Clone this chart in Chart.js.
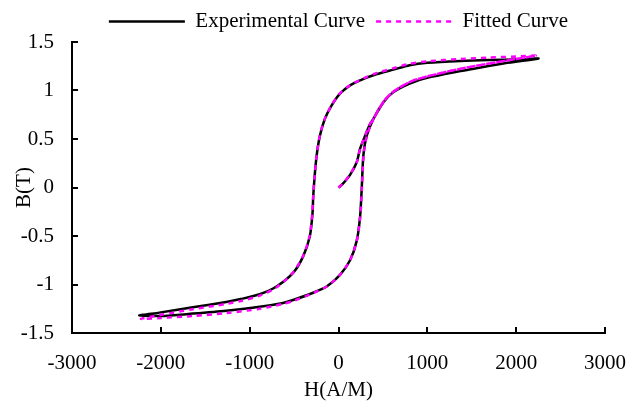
<!DOCTYPE html>
<html>
<head>
<meta charset="utf-8">
<script src="https://cdn.jsdelivr.net/npm/chart.js@4/dist/chart.umd.min.js"></script>
<style>
  body { margin: 0; background: #fff; }
  #wrap { width: 643px; height: 403px; }
</style>
</head>
<body>
<div id="wrap"><canvas id="loop" width="643" height="403"></canvas></div>
<script>
// measured curve: initial magnetisation, then down the upper branch, then up the lower branch
const expH = [0, 50, 130, 205, 243, 300, 356, 393,
    506, 619, 808, 997, 1373, 1523, 1900, 2251,
    2000, 1700, 1373, 1000, 800, 619, 400, 243, 130, 17, -77, -153, -209, -246, -270, -285, -292, -322, -398, -511, -698, -887, -1100, -1263, -1640, -2017, -2243,
    -2000, -1640, -1263, -887, -624, -511, -300, -133, 17, 130, 205, 243, 262, 280, 318, 393, 506, 619, 808, 997, 1373, 1523, 1900, 2251];
const expB = [0, 0.04, 0.13, 0.26, 0.40, 0.535, 0.656, 0.708,
    0.88, 0.984, 1.075, 1.13, 1.20, 1.225, 1.285, 1.33,
    1.32, 1.315, 1.305, 1.285, 1.26, 1.215, 1.16, 1.105, 1.053, 0.967, 0.846, 0.708, 0.535, 0.33, 0.10, -0.10, -0.26, -0.50, -0.71, -0.88, -1.02, -1.10, -1.15, -1.18, -1.235, -1.29, -1.32,
    -1.325, -1.30, -1.27, -1.23, -1.19, -1.16, -1.09, -1.02, -0.90, -0.75, -0.55, -0.30, 0.0, 0.33, 0.535, 0.708, 0.88, 0.984, 1.075, 1.13, 1.20, 1.225, 1.285, 1.33];

// model fit, same path
const fitH = [0, 50, 130, 205, 243, 300, 356, 395,
    506, 619, 808, 997, 1373, 1523, 1900, 2220,
    2000, 1700, 1373, 1000, 800, 619, 400, 243, 130, 17, -77, -153, -209, -246, -270, -285, -295, -325, -400, -515, -700, -887, -1100, -1263, -1640, -2017, -2224,
    -2000, -1640, -1263, -887, -624, -511, -300, -133, 17, 130, 205, 245, 264, 282, 320, 395, 506, 619, 808, 997, 1373, 1523, 1900, 2220];
const fitB = [0, 0.04, 0.135, 0.26, 0.40, 0.535, 0.656, 0.71,
    0.885, 0.99, 1.09, 1.145, 1.225, 1.25, 1.31, 1.36,
    1.35, 1.34, 1.325, 1.30, 1.275, 1.23, 1.17, 1.11, 1.055, 0.97, 0.85, 0.71, 0.54, 0.33, 0.10, -0.10, -0.26, -0.50, -0.71, -0.88, -1.03, -1.115, -1.17, -1.20, -1.255, -1.315, -1.355,
    -1.345, -1.325, -1.295, -1.25, -1.20, -1.17, -1.095, -1.02, -0.90, -0.75, -0.55, -0.30, 0.0, 0.33, 0.535, 0.71, 0.885, 0.99, 1.09, 1.145, 1.225, 1.25, 1.31, 1.36];

const xTicks = [-3000, -2000, -1000, 0, 1000, 2000, 3000];
const yTicks = [-1.5, -1, -0.5, 0, 0.5, 1, 1.5];

const FONT = 'Liberation Serif, Times New Roman, serif';

function toPoints(hs, bs) {
    return hs.map((h, i) => ({ x: h, y: bs[i] }));
}

// tick marks pointing into the plot, like the original
const innerTicks = {
    id: 'innerTicks',
    afterDraw(chart) {
        const ctx = chart.ctx;
        const area = chart.chartArea;
        const xs = chart.scales.x;
        const ys = chart.scales.y;
        ctx.save();
        ctx.strokeStyle = '#000';
        ctx.lineWidth = 2;
        ctx.beginPath();
        xTicks.forEach(v => {
            const px = Math.round(xs.getPixelForValue(v));
            ctx.moveTo(px, area.bottom);
            ctx.lineTo(px, area.bottom - 6);
        });
        yTicks.forEach(v => {
            const py = Math.round(ys.getPixelForValue(v));
            ctx.moveTo(area.left, py);
            ctx.lineTo(area.left + 6, py);
        });
        ctx.stroke();
        ctx.restore();
    }
};

new Chart(document.getElementById('loop'), {
    type: 'scatter',
    data: {
        datasets: [{
            label: 'Experimental Curve',
            data: toPoints(expH, expB),
            showLine: true,
            borderColor: '#000',
            backgroundColor: '#000',
            borderWidth: 2.5,
            pointRadius: 0,
            tension: 0.25,
            order: 1
        }, {
            label: 'Fitted Curve',
            data: toPoints(fitH, fitB),
            showLine: true,
            borderColor: '#ff00ff',
            backgroundColor: '#ff00ff',
            borderWidth: 2.5,
            borderDash: [5, 5],
            pointRadius: 0,
            tension: 0.25,
            order: 0
        }]
    },
    options: {
        responsive: false,
        animation: false,
        layout: { padding: { left: 0, right: 38, top: 0, bottom: 0 } },
        plugins: {
            tooltip: { enabled: false },
            legend: {
                position: 'top',
                fullSize: false,
                labels: {
                    usePointStyle: true,
                    pointStyle: 'line',
                    pointStyleWidth: 76,
                    padding: 11,
                    color: '#000',
                    font: { family: FONT, size: 21 },
                    sort: (a, b) => a.datasetIndex - b.datasetIndex,
                    generateLabels(chart) {
                        const items = Chart.defaults.plugins.legend.labels.generateLabels(chart);
                        items.forEach(it => {
                            const ds = chart.data.datasets[it.datasetIndex];
                            it.strokeStyle = ds.borderColor;
                            it.lineWidth = 2.5;
                            it.lineDash = ds.borderDash || [];
                        });
                        return items;
                    }
                }
            }
        },
        scales: {
            x: {
                type: 'linear',
                min: -3000,
                max: 3000,
                afterFit: s => { s.height = 70; },
                afterBuildTicks: s => { s.ticks = xTicks.map(v => ({ value: v })); },
                grid: { display: false },
                border: { display: true, color: '#000', width: 2 },
                ticks: {
                    padding: 10,
                    color: '#000',
                    font: { family: FONT, size: 21 },
                    maxRotation: 0,
                    callback: v => String(v)
                },
                title: {
                    display: true,
                    text: 'H(A/M)',
                    color: '#000',
                    font: { family: FONT, size: 21, lineHeight: 1 },
                    padding: { top: 0, bottom: 2 }
                }
            },
            y: {
                type: 'linear',
                min: -1.5,
                max: 1.5,
                afterFit: s => { s.width = 72; },
                afterBuildTicks: s => { s.ticks = yTicks.map(v => ({ value: v })); },
                grid: { display: false },
                border: { display: true, color: '#000', width: 2 },
                ticks: {
                    padding: 10,
                    color: '#000',
                    font: { family: FONT, size: 21 },
                    callback: v => String(v)
                },
                title: {
                    display: true,
                    text: 'B(T)',
                    color: '#000',
                    font: { family: FONT, size: 21, lineHeight: 1 },
                    padding: { top: 14, bottom: 0 }
                }
            }
        }
    },
    plugins: [innerTicks]
});
</script>
</body>
</html>
